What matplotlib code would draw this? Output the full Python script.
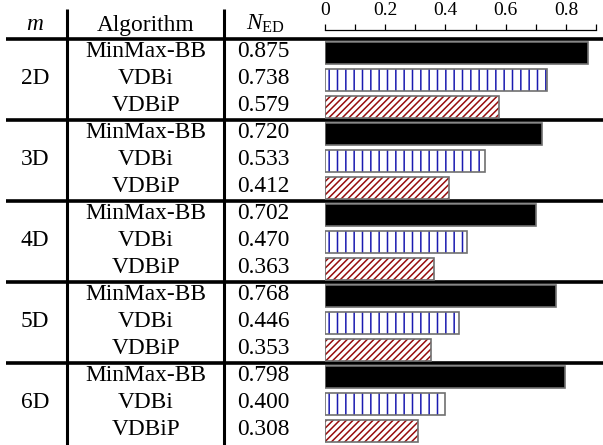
import matplotlib
matplotlib.use("Agg")
import matplotlib.pyplot as plt
import numpy as np

# ---- data ----
dims = ["2D", "3D", "4D", "5D", "6D"]
algorithms = ["MinMax-BB", "VDBi", "VDBiP"]
n_ed = {
    "2D": [0.875, 0.738, 0.579],
    "3D": [0.720, 0.533, 0.412],
    "4D": [0.702, 0.470, 0.363],
    "5D": [0.768, 0.446, 0.353],
    "6D": [0.798, 0.400, 0.308],
}
tick_values = [0.0, 0.1, 0.2, 0.3, 0.4, 0.5, 0.6, 0.7, 0.8, 0.9]
tick_labels = ["0", "", "0.2", "", "0.4", "", "0.6", "", "0.8", ""]

plt.rcParams["font.family"] = ["Liberation Serif", "DejaVu Serif"]
plt.rcParams["mathtext.fontset"] = "custom"
plt.rcParams["mathtext.rm"] = "Liberation Serif"
plt.rcParams["mathtext.it"] = "Liberation Serif:italic"
plt.rcParams["hatch.linewidth"] = 1.1

W, H = 603, 445
fig = plt.figure(figsize=(W / 100, H / 100), dpi=100)

# table layer in pixel coordinates
tax = fig.add_axes([0, 0, 1, 1])
tax.set_xlim(0, W)
tax.set_ylim(H, 0)
tax.axis("off")

row_h = 27.0
first_center = 52.5
fs = 16.8

def row_y(r):
    return first_center + row_h * r

# header
tax.text(35, 30.5, r"$m$", ha="center", va="baseline", fontsize=fs)
tax.text(146, 30.5, "Algorithm", ha="center", va="baseline", fontsize=fs)
tax.text(265, 29.5, r"$N_{\rm ED}$", ha="center", va="baseline", fontsize=fs)

# vertical rules
for xv in (67, 224):
    tax.plot([xv, xv], [9, H], color="black", lw=2.2, solid_capstyle="butt")

# horizontal rules between groups
for g in range(len(dims)):
    yl = row_y(3 * g) - row_h / 2
    tax.plot([6, W], [yl, yl], color="black", lw=2.6, solid_capstyle="butt")

# cell text
for g, d in enumerate(dims):
    tax.text(35, row_y(3 * g + 1) + 4.8, d, ha="center", va="baseline", fontsize=fs)
    for k, a in enumerate(algorithms):
        r = 3 * g + k
        tax.text(146, row_y(r) + 4.8, a, ha="center", va="baseline", fontsize=fs)
        tax.text(263, row_y(r) + 4.8, f"{n_ed[d][k]:.3f}", ha="center",
                 va="baseline", fontsize=fs)

# bar layer
x0, x1, ytop = 325, 596, 30
bax = fig.add_axes([x0 / W, 0, (x1 - x0) / W, (H - ytop) / H])
bax.patch.set_alpha(0)
bax.set_xlim(0, 0.9)
bax.set_ylim((H - first_center) / row_h, (ytop - first_center) / row_h)

bar_h = 22 / row_h
styles = [
    dict(color="black", hatch=None, hcolor=None),
    dict(color="white", hatch="||", hcolor="#1a1ab0"),
    dict(color="white", hatch="/////", hcolor="#960c0c"),
]
edge_gray = "#707070"
for k, a in enumerate(algorithms):
    ys = [3 * g + k for g in range(len(dims))]
    vals = [n_ed[d][k] for d in dims]
    st = styles[k]
    if st["hatch"]:
        bax.barh(ys, vals, height=bar_h, color=st["color"], edgecolor=st["hcolor"],
                 linewidth=0, hatch=st["hatch"])
        bax.barh(ys, vals, height=bar_h, fill=False, edgecolor=edge_gray, linewidth=1.2)
    else:
        bax.barh(ys, vals, height=bar_h, color=st["color"], edgecolor=edge_gray,
                 linewidth=1.2)

for s in ("left", "right", "bottom"):
    bax.spines[s].set_visible(False)
bax.spines["top"].set_linewidth(0.9)
bax.xaxis.tick_top()
bax.set_xticks(tick_values)
bax.set_xticklabels(tick_labels)
bax.tick_params(axis="x", direction="out", length=4, width=0.9, pad=4, labelsize=14)
bax.set_yticks([])

fig.savefig("out.png", dpi=100)
